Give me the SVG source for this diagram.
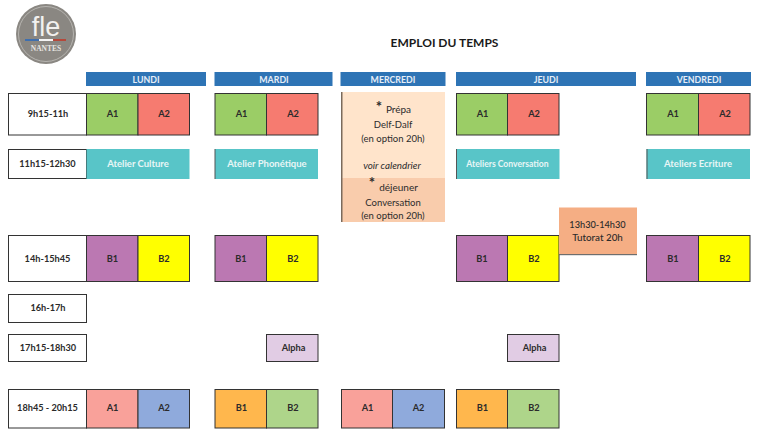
<svg xmlns="http://www.w3.org/2000/svg" width="768" height="438" viewBox="0 0 768 438">
<style>
text{font-family:Lato,"Liberation Sans",sans-serif;text-anchor:middle;fill:#2b2b2b;font-size:9.200px}
.b{font-weight:700}
.w{font-weight:700;fill:#e8f6f6;font-size:9.500px}
.h{font-weight:700;fill:#e6eef7;font-size:8.800px}
.s{font-size:9.500px}
.hd{fill:#2e74b5}
.c{stroke:#333;stroke-width:1}
.n{stroke:none}
.e{fill:#555}
</style>
<rect width="768" height="438" fill="#fff"/>
<g id="logo">
<circle cx="46" cy="34" r="30" fill="#8a8782"/>
<circle cx="46" cy="34" r="27.500" fill="none" stroke="#c9c7c3" stroke-width="0.7"/>
<text x="46" y="36" style="font-size:27px;font-weight:300;fill:#f2f1ef;font-family:'Liberation Sans',sans-serif">fle</text>
<rect x="25" y="39" width="14" height="2" fill="#3f6fae"/>
<rect x="39" y="39" width="14" height="2" fill="#f4f4f4"/>
<rect x="53" y="39" width="13" height="2" fill="#b5483a"/>
<text x="46" y="50.500" style="font-family:'Liberation Serif',serif;font-size:7.500px;font-weight:700;fill:#e6e4e0">NANTES</text>
</g>
<text id="title" x="444.500" y="47" class="b" style="font-size:12px;fill:#1a1a1a">EMPLOI DU TEMPS</text>
<g id="headers">
<g id="h-lundi"><rect class="hd" x="86" y="72" width="120" height="14"/><text class="h" x="146" y="82.500">LUNDI</text></g>
<g id="h-mardi"><rect class="hd" x="214.500" y="72" width="118" height="14"/><text class="h" x="274" y="82.500">MARDI</text></g>
<g id="h-mercredi"><rect class="hd" x="340.500" y="72" width="105" height="14"/><text class="h" x="393" y="82.500">MERCREDI</text></g>
<g id="h-jeudi"><rect class="hd" x="456" y="72" width="180" height="14"/><text class="h" x="546" y="82.500">JEUDI</text></g>
<g id="h-vendredi"><rect class="hd" x="646" y="72" width="105" height="14"/><text class="h" x="699" y="82.500">VENDREDI</text></g>
</g>
<g id="times" fill="#fff">
<g id="t1"><rect class="c" x="8.500" y="93.500" width="78" height="41.500"/><text class="b" x="48" y="117">9h15-11h</text></g>
<g id="t2"><rect class="c" x="8.500" y="149.500" width="78" height="29"/><text class="b" x="47.500" y="167">11h15-12h30</text></g>
<g id="t3"><rect class="c" x="8.500" y="235.500" width="78" height="46"/><text class="b" x="47.500" y="261.500">14h-15h45</text></g>
<g id="t4"><rect class="c" x="8.500" y="294.500" width="78" height="28"/><text class="b" x="48" y="311">16h-17h</text></g>
<g id="t5"><rect class="c" x="8.500" y="334.500" width="78" height="27"/><text class="b" x="48" y="351">17h15-18h30</text></g>
<g id="t6"><rect class="c" x="8.500" y="389.500" width="78" height="38.500"/><text class="b" x="47.500" y="411">18h45 - 20h15</text></g>
</g>
<g id="lundi">
<g id="lu-a1"><rect class="c" x="86.500" y="93.500" width="51.500" height="41.500" fill="#9bcd66"/><text class="b" x="112.500" y="117">A1</text></g>
<g id="lu-a2"><rect class="c" x="138" y="93.500" width="51.500" height="41.500" fill="#f67b70"/><text class="b" x="164" y="117">A2</text></g>
<g id="lu-cult"><rect class="n" x="86.500" y="149" width="103" height="30" fill="#58c5c8"/><text class="w" x="138" y="167">Atelier Culture</text></g>
<g id="lu-b1"><rect class="c" x="86.500" y="235.500" width="51.500" height="46" fill="#bb78b2"/><text class="b" x="112.500" y="261.500">B1</text></g>
<g id="lu-b2"><rect class="c" x="138" y="235.500" width="51.500" height="46" fill="#ffff00"/><text class="b" x="164" y="261.500">B2</text></g>
<g id="lu-e1"><rect class="c" x="86.500" y="389.500" width="51.500" height="38.500" fill="#f9a19a"/><text class="b" x="112.500" y="411">A1</text></g>
<g id="lu-e2"><rect class="c" x="138" y="389.500" width="51.500" height="38.500" fill="#8faadc"/><text class="b" x="164" y="411">A2</text></g>
</g>
<g id="mardi">
<g id="ma-a1"><rect class="c" x="215" y="93.500" width="51.500" height="41.500" fill="#9bcd66"/><text class="b" x="241.500" y="117">A1</text></g>
<g id="ma-a2"><rect class="c" x="266.500" y="93.500" width="51.500" height="41.500" fill="#f67b70"/><text class="b" x="293" y="117">A2</text></g>
<g id="ma-phon"><rect class="n" x="215" y="149" width="103" height="30" fill="#58c5c8"/><rect class="n e" x="214.500" y="149" width="1" height="30"/><text class="w" x="267" y="167">Atelier Phonétique</text></g>
<g id="ma-b1"><rect class="c" x="215" y="235.500" width="51.500" height="46" fill="#bb78b2"/><text class="b" x="241" y="261.500">B1</text></g>
<g id="ma-b2"><rect class="c" x="266.500" y="235.500" width="51.500" height="46" fill="#ffff00"/><text class="b" x="293" y="261.500">B2</text></g>
<g id="ma-alpha"><rect class="c" x="266.500" y="334.500" width="51.500" height="27" fill="#e1cce4"/><text class="b" x="293.500" y="351">Alpha</text></g>
<g id="ma-e1"><rect class="c" x="215" y="389.500" width="51.500" height="38.500" fill="#ffb74d"/><text class="b" x="241.500" y="411">B1</text></g>
<g id="ma-e2"><rect class="c" x="266.500" y="389.500" width="51.500" height="38.500" fill="#aed58a"/><text class="b" x="293" y="411">B2</text></g>
</g>
<g id="mercredi">
<g id="me-prepa"><rect class="n" x="341" y="92" width="104" height="86" fill="#ffe4cb"/><rect class="n" x="341" y="92" width="1.500" height="86" fill="#7a6a5c"/>
<text x="379" y="112" class="b" style="font-size:15px">*</text>
<text x="398.500" y="113" style="font-size:10px">Prépa</text>
<text x="393" y="128" class="s">Delf-Dalf</text>
<text x="393" y="142" class="s">(en option 20h)</text>
<text x="392" y="169" style="font-size:9.800px;font-style:italic">voir calendrier</text></g>
<g id="me-dej"><rect class="n" x="341" y="178" width="104" height="44" fill="#f9ccac"/><rect class="n" x="341" y="178" width="1.500" height="44" fill="#7a6a5c"/>
<text x="372" y="188" class="b" style="font-size:15px">*</text>
<text x="398.500" y="191" style="font-size:10px">déjeuner</text>
<text x="393" y="206" class="s">Conversation</text>
<text x="393" y="219" class="s">(en option 20h)</text></g>
<g id="me-e1"><rect class="c" x="341.500" y="389.500" width="51.500" height="38.500" fill="#f9a19a"/><text class="b" x="367.500" y="411">A1</text></g>
<g id="me-e2"><rect class="c" x="392.500" y="389.500" width="52" height="38.500" fill="#8faadc"/><text class="b" x="418.500" y="411">A2</text></g>
</g>
<g id="jeudi">
<g id="je-a1"><rect class="c" x="456.500" y="93.500" width="51" height="41.500" fill="#9bcd66"/><text class="b" x="482.500" y="117">A1</text></g>
<g id="je-a2"><rect class="c" x="507.500" y="93.500" width="51.500" height="41.500" fill="#f67b70"/><text class="b" x="534" y="117">A2</text></g>
<g id="je-conv"><rect class="n" x="456" y="149" width="103.500" height="30" fill="#58c5c8"/><rect class="n e" x="456" y="149" width="1" height="30"/><text class="w" x="507.500" y="167" style="font-size:8.600px">Ateliers Conversation</text></g>
<g id="je-b1"><rect class="c" x="456.500" y="235.500" width="51" height="46" fill="#bb78b2"/><text class="b" x="482" y="261.500">B1</text></g>
<g id="je-b2"><rect class="c" x="507.500" y="235.500" width="51.500" height="46" fill="#ffff00"/><text class="b" x="534" y="261.500">B2</text></g>
<g id="je-alpha"><rect class="c" x="507.500" y="334.500" width="51.500" height="27" fill="#e1cce4"/><text class="b" x="534.500" y="351">Alpha</text></g>
<g id="je-e1"><rect class="c" x="456.500" y="389.500" width="51" height="38.500" fill="#ffb74d"/><text class="b" x="482.500" y="411">B1</text></g>
<g id="je-e2"><rect class="c" x="507.500" y="389.500" width="51.500" height="38.500" fill="#aed58a"/><text class="b" x="534" y="411">B2</text></g>
<g id="je-tut"><rect class="n" x="559" y="207.500" width="78" height="47" fill="#f5ae84"/><rect class="n" x="559" y="254" width="78" height="1.200" fill="#6e6e6e"/>
<text x="597.500" y="228" style="font-size:9.200px;font-weight:500">13h30-14h30</text><text x="597.500" y="241" style="font-size:9.800px;font-weight:500">Tutorat 20h</text></g>
</g>
<g id="vendredi">
<g id="ve-a1"><rect class="c" x="646.500" y="93.500" width="52" height="41.500" fill="#9bcd66"/><text class="b" x="673" y="117">A1</text></g>
<g id="ve-a2"><rect class="c" x="698.500" y="93.500" width="51.500" height="41.500" fill="#f67b70"/><text class="b" x="725" y="117">A2</text></g>
<g id="ve-ecr"><rect class="n" x="646.500" y="149" width="103.500" height="30" fill="#58c5c8"/><rect class="n e" x="646.500" y="149" width="1" height="30"/><text class="w" x="698" y="167">Ateliers Ecriture</text></g>
<g id="ve-b1"><rect class="c" x="646.500" y="235.500" width="52" height="46" fill="#bb78b2"/><text class="b" x="673" y="261.500">B1</text></g>
<g id="ve-b2"><rect class="c" x="698.500" y="235.500" width="51.500" height="46" fill="#ffff00"/><text class="b" x="725" y="261.500">B2</text></g>
</g>
</svg>
